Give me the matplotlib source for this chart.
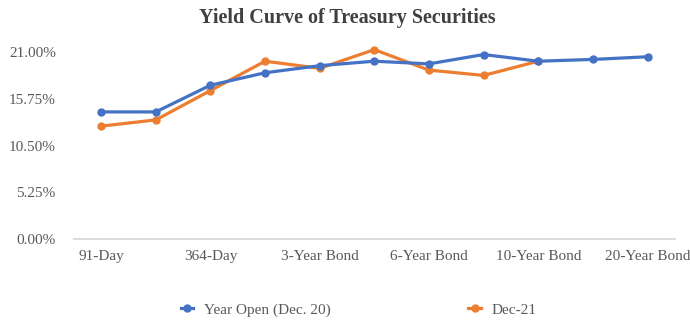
import matplotlib
matplotlib.use("Agg")
import matplotlib.pyplot as plt
from matplotlib.ticker import FuncFormatter

# tenors, only every other one is labelled on the axis
tenors = ["91-Day", "182-Day", "364-Day", "2-Year Bond", "3-Year Bond", "5-Year Bond",
          "6-Year Bond", "8-Year Bond", "10-Year Bond", "15-Year Bond", "20-Year Bond"]
year_open = [14.3, 14.3, 17.3, 18.7, 19.5, 20.0, 19.7, 20.75, 20.0, 20.2, 20.5]
dec_21 = [12.7, 13.4, 16.7, 20.0, 19.2, 21.3, 19.0, 18.4, 20.0]
y_ticks = [0, 5.25, 10.5, 15.75, 21.0]

BLUE = "#4472C4"
ORANGE = "#ED7D31"
GREY = "#595959"
plt.rcParams["font.family"] = ["Liberation Serif", "DejaVu Serif"]

fig = plt.figure(figsize=(6.9, 3.28), dpi=100)
ax = fig.add_axes([0.107, 0.271, 0.871, 0.5695])

x1 = list(range(len(year_open)))
x2 = list(range(len(dec_21)))
ax.plot(x2, dec_21, color=ORANGE, lw=2.3, marker="o", ms=5, clip_on=False,
        label="Dec-21", zorder=3)
ax.plot(x1, year_open, color=BLUE, lw=2.3, marker="o", ms=5, clip_on=False,
        label="Year Open (Dec. 20)", zorder=4)

ax.set_xlim(-0.5, len(tenors) - 0.5)
ax.set_ylim(0, 21)
ax.set_yticks(y_ticks)
ax.yaxis.set_major_formatter(FuncFormatter(lambda v, p: f"{v:.2f}%"))
ax.set_xticks(x1[::2])
ax.set_xticklabels(tenors[::2])
ax.tick_params(axis="both", length=0, labelsize=11, colors=GREY)
ax.tick_params(axis="x", pad=8)
ax.tick_params(axis="y", pad=13)

for s in ["top", "right", "left"]:
    ax.spines[s].set_visible(False)
ax.spines["bottom"].set_color("#D9D9D9")
ax.spines["bottom"].set_linewidth(1.3)

fig.text(0.504, 0.945, "Yield Curve of Treasury Securities", ha="center", va="center",
         fontsize=14.5, fontweight="bold", color="#404040")

h, l = ax.get_legend_handles_labels()
fig.legend(h[::-1], l[::-1], loc="center", bbox_to_anchor=(0.52, 0.055), ncol=2,
           frameon=False, fontsize=11, labelcolor=GREY, handlelength=0.8,
           handletextpad=0.7, columnspacing=9.0)

fig.savefig("out.png", dpi=100)
